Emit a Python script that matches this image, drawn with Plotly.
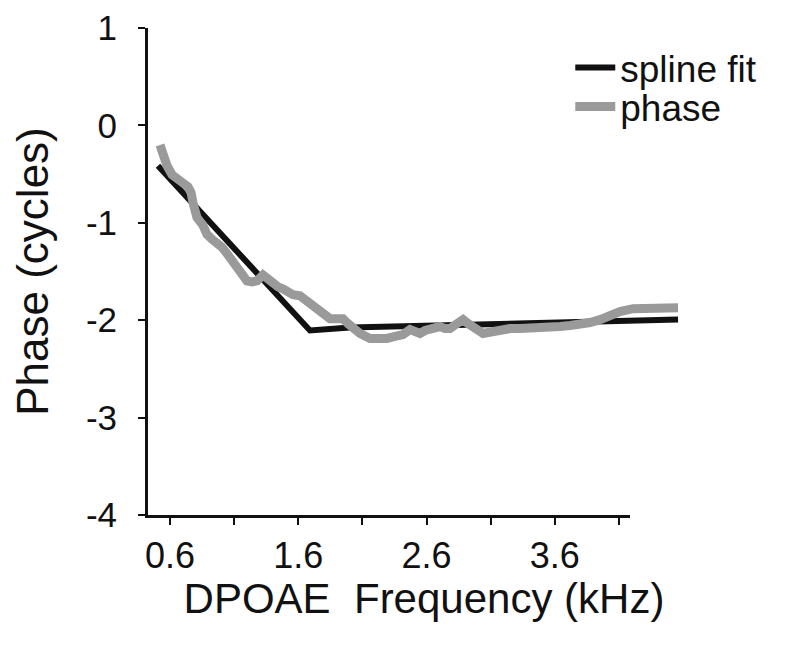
import plotly.graph_objects as go

# spline fit (black)
fit_freq = [0.506, 1.691, 2.003, 2.782, 3.562, 4.560]
fit_phase = [-0.415, -2.106, -2.075, -2.055, -2.024, -1.994]

# measured phase (grey)
phase_freq = [
    0.522, 0.545, 0.577, 0.616, 0.655, 0.709, 0.740, 0.764, 0.779, 0.810,
    0.857, 0.888, 0.927, 0.966, 1.005, 1.036, 1.068, 1.114, 1.146, 1.177,
    1.200, 1.239, 1.278, 1.325, 1.364, 1.403, 1.442, 1.481, 1.520, 1.559,
    1.613, 1.652, 1.691, 1.730, 1.769, 1.808, 1.847, 1.902, 1.948, 1.987,
    2.026, 2.081, 2.159, 2.237, 2.291, 2.354, 2.416, 2.471, 2.510, 2.549,
    2.588, 2.627, 2.665, 2.704, 2.743, 2.782, 2.837, 2.884, 2.923, 2.962,
    3.001, 3.040, 3.079, 3.118, 3.172, 3.250, 3.328, 3.406, 3.484, 3.562,
    3.640, 3.718, 3.796, 3.874, 3.952, 4.006, 4.053, 4.107, 4.209, 4.341,
    4.458, 4.560,
]
phase_vals = [
    -0.202, -0.303, -0.415, -0.507, -0.558, -0.599, -0.629, -0.690, -0.792, -0.945,
    -1.026, -1.118, -1.169, -1.200, -1.251, -1.302, -1.363, -1.434, -1.485, -1.546,
    -1.597, -1.607, -1.597, -1.536, -1.587, -1.637, -1.658, -1.678, -1.709, -1.739,
    -1.749, -1.790, -1.841, -1.882, -1.912, -1.943, -1.984, -1.984, -1.984, -2.035,
    -2.086, -2.136, -2.187, -2.198, -2.187, -2.167, -2.147, -2.096, -2.116, -2.136,
    -2.106, -2.086, -2.065, -2.065, -2.086, -2.086, -2.035, -1.994, -2.035, -2.065,
    -2.106, -2.136, -2.126, -2.116, -2.096, -2.086, -2.086, -2.075, -2.065, -2.065,
    -2.065, -2.055, -2.045, -2.024, -1.994, -1.963, -1.933, -1.912, -1.882, -1.872,
    -1.872, -1.872,
]

x_tickvals = [0.6, 1.1, 1.6, 2.1, 2.6, 3.1, 3.6, 4.1]
x_ticktext = ["0.6", "", "1.6", "", "2.6", "", "3.6", ""]
y_tickvals = [1, 0, -1, -2, -3, -4]
y_ticktext = ["1", "0", "-1", "-2", "-3", "-4"]

FONT = "Liberation Sans, Arial, sans-serif"
INK = "#111111"

fig = go.Figure()
fig.add_trace(go.Scatter(
    x=fit_freq, y=fit_phase, mode="lines", name="spline fit",
    line=dict(color=INK, width=6), legend="legend",
))
fig.add_trace(go.Scatter(
    x=phase_freq, y=phase_vals, mode="lines", name="phase",
    line=dict(color="#9a9a9a", width=9), legend="legend2",
))
# empty trace so the visible (shorter) x axis gets drawn
fig.add_trace(go.Scatter(x=[], y=[], xaxis="x2", showlegend=False, hoverinfo="skip"))

leg = dict(
    x=0.765, xanchor="left", yanchor="middle",
    font=dict(size=37, family=FONT, color=INK),
    bgcolor="rgba(0,0,0,0)", itemwidth=40,
)

# page body has an 8px margin, so the figure is 8px smaller and margins shifted
fig.update_layout(
    width=792,
    height=638,
    margin=dict(l=140, r=100, t=20, b=131),
    paper_bgcolor="white",
    plot_bgcolor="rgba(0,0,0,0)",
    font=dict(family=FONT, color=INK),
    showlegend=True,
    legend=dict(leg, y=0.918),
    legend2=dict(leg, y=0.838),
    xaxis=dict(
        domain=[0, 1], range=[0.4285, 4.731], automargin=False,
        showline=False, showgrid=False, zeroline=False,
        ticks="", showticklabels=False,
        title=dict(text="DPOAE  Frequency (kHz)", font=dict(size=42, family=FONT, color=INK), standoff=68),
    ),
    xaxis2=dict(
        domain=[0, 0.873], range=[0.4285, 4.185], anchor="y",
        showline=True, linecolor=INK, linewidth=3, automargin=False,
        showgrid=False, zeroline=False,
        ticks="outside", ticklen=7, tickwidth=2, tickcolor=INK,
        tickvals=x_tickvals, ticktext=x_ticktext,
        tickfont=dict(size=36, family=FONT, color=INK),
        ticklabeloverflow="allow",
    ),
    yaxis=dict(
        range=[-4, 1], anchor="x", automargin=False,
        showline=True, linecolor=INK, linewidth=3,
        showgrid=False, zeroline=False,
        ticks="outside", ticklen=7, tickwidth=2, tickcolor=INK,
        tickvals=y_tickvals, ticktext=y_ticktext,
        tickfont=dict(size=35, family=FONT, color=INK),
        ticklabelstandoff=14, ticklabeloverflow="allow",
        title=dict(text="Phase (cycles)", font=dict(size=44, family=FONT, color=INK), standoff=30),
    ),
)

fig.write_html("out.html")
